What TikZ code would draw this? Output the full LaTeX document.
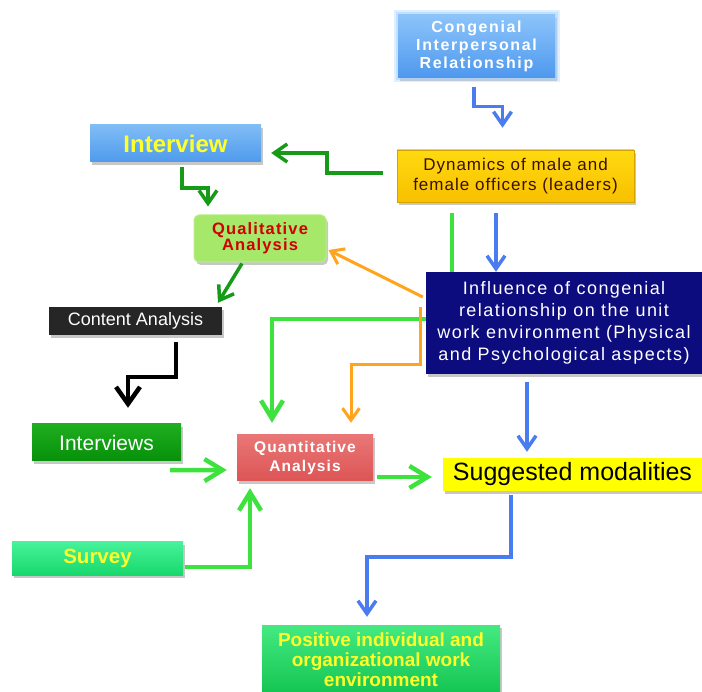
\documentclass[tikz,border=0pt]{standalone}
\usepackage{fontspec}
\setmainfont{Liberation Sans}
\setsansfont{Liberation Sans}
\newfontfamily\fontLSa{Liberation Sans}[LetterSpace=10]
\newfontfamily\fontLSb{Liberation Sans}[LetterSpace=7]
\newfontfamily\fontLSc{Liberation Sans}[LetterSpace=8]
\newfontfamily\fontLSd{Liberation Sans}[LetterSpace=6]
\usetikzlibrary{arrows.meta,shadows}
\definecolor{congT}{HTML}{8CC4FA}
\definecolor{congB}{HTML}{4E98EE}
\definecolor{congGlow}{HTML}{A8D4FF}
\definecolor{dynT}{HTML}{FFDA10}
\definecolor{dynB}{HTML}{F8C000}
\definecolor{dynText}{HTML}{3A1200}
\definecolor{intvT}{HTML}{80BDF6}
\definecolor{intvB}{HTML}{4E9AEC}
\definecolor{qualF}{HTML}{A6E86A}
\definecolor{qualText}{HTML}{D00000}
\definecolor{contF}{HTML}{262626}
\definecolor{inflF}{HTML}{0C0C7E}
\definecolor{ivsT}{HTML}{1FAE1F}
\definecolor{ivsB}{HTML}{07900A}
\definecolor{quantT}{HTML}{EA7676}
\definecolor{quantB}{HTML}{DC5555}
\definecolor{survT}{HTML}{46F29A}
\definecolor{survB}{HTML}{18D86C}
\definecolor{suggF}{HTML}{FFFF00}
\definecolor{posT}{HTML}{44EA80}
\definecolor{posB}{HTML}{14C452}
\definecolor{yellowText}{HTML}{FFFF2A}
\definecolor{arrBlue}{HTML}{4A7CF0}
\definecolor{arrDkGreen}{HTML}{179A17}
\definecolor{arrGreen}{HTML}{3EE23E}
\definecolor{arrOrange}{HTML}{FFA41C}
\tikzset{
  bx/.style={inner sep=0pt, align=center,
    drop shadow={shadow xshift=2pt, shadow yshift=-3pt, opacity=0.22, fill=black}},
  barrow/.style={draw=arrBlue, line width=3.5pt, -{Straight Barb[length=13pt,width=18pt]}},
  dgarrow/.style={draw=arrDkGreen, line width=3.5pt, -{Straight Barb[length=13pt,width=18pt]}},
  garrow/.style={draw=arrGreen, line width=4.5pt, -{Straight Barb[length=18pt,width=22pt]}},
  gline/.style={draw=arrGreen, line width=4.5pt},
  oarrow/.style={draw=arrOrange, line width=3pt, -{Straight Barb[length=12pt,width=17pt]}},
  karrow/.style={draw=black, line width=4.5pt, -{Straight Barb[length=17pt,width=24pt]}},
}
\begin{document}
\begin{tikzpicture}[x=1pt,y=-1pt]
\useasboundingbox[fill=white] (0,0) rectangle (702,692);

% nodes
\node[bx, minimum width=157pt, minimum height=63pt, top color=congT, bottom color=congB,
  preaction={draw=congGlow, line width=9pt, opacity=0.35},
  preaction={draw=congGlow, line width=5pt, opacity=0.5},
  text=white, font={\fontLSa\bfseries\fontsize{16}{18}\selectfont}]
  (cong) at (476.5,46.5) {Congenial\\Interpersonal\\Relationship};

\node[bx, minimum width=237pt, minimum height=52pt, top color=dynT, bottom color=dynB,
  draw=dynB!85!black, line width=0.5pt,
  text=dynText, font={\fontLSd\fontsize{17}{20}\selectfont}]
  (dyn) at (515.5,176) {Dynamics of male and\\female officers (leaders)};

\node[bx, minimum width=171pt, minimum height=37pt, top color=intvT, bottom color=intvB,
  text=yellowText, font={\bfseries\fontsize{24}{26}\selectfont}]
  (interview) at (175.5,143.5) {Interview};

\node[bx, minimum width=132pt, minimum height=47pt, fill=qualF, rounded corners=5pt,
  draw=qualF!80!white, line width=1pt,
  text=qualText, font={\fontLSb\bfseries\fontsize{16.5}{16}\selectfont}]
  (qual) at (260,238.5) {Qualitative\\Analysis};

\node[bx, minimum width=173pt, minimum height=28pt, fill=contF,
  text=white, font={\fontsize{18}{20}\selectfont}]
  (content) at (135.5,321) {Content Analysis};

\node[bx, minimum width=276pt, minimum height=102pt, fill=inflF,
  text=white, font={\fontLSc\fontsize{18}{22}\selectfont}]
  (infl) at (564,323) {Influence of congenial\\relationship on the unit\\work environment (Physical\\and Psychological aspects)};

\node[bx, minimum width=149pt, minimum height=37pt, top color=ivsT, bottom color=ivsB,
  text=white, font={\fontsize{21}{24}\selectfont}]
  (interviews) at (106.5,442.5) {Interviews};

\node[bx, minimum width=136pt, minimum height=46pt, top color=quantT, bottom color=quantB,
  text=white, font={\fontLSb\bfseries\fontsize{15.5}{19}\selectfont}]
  (quant) at (305,458) {Quantitative\\Analysis};

\node[bx, minimum width=171pt, minimum height=33pt, top color=survT, bottom color=survB,
  text=yellowText, font={\bfseries\fontsize{20.5}{24}\selectfont}]
  (survey) at (97.5,558.5) {Survey};

\node[bx, minimum width=259pt, minimum height=33pt, fill=suggF,
  text=black, font={\fontsize{25}{28}\selectfont}]
  (sugg) at (572.5,474.5) {Suggested modalities};

\node[bx, minimum width=238pt, minimum height=69pt, top color=posT, bottom color=posB,
  text=yellowText, font={\bfseries\fontsize{19}{20}\selectfont}]
  (pos) at (381,659.5) {Positive individual and\\organizational work\\environment};

% connectors
\draw[barrow] ([shift={(-2.5,9)}]cong.south) |- ([shift={(-13,-43)}]dyn.north)
  -- ([shift={(-13,-22)}]dyn.north);
\draw[dgarrow] ([shift={(-14,-3)}]dyn.west) -- ++(-56,0)
  |- ([shift={(10,9.5)}]interview.east);
\draw[dgarrow] ([shift={(6.5,5)}]interview.south) -- ++(0,21)
  -| ([shift={(-52,-8)}]qual.north);
\draw[dgarrow] ([shift={(-18,1)}]qual.south) -- ([shift={(82.5,-4)}]content.north);
\draw[karrow] ([shift={(40.5,7)}]content.south) -- ++(0,35)
  -| ([shift={(21.5,-16)}]interviews.north);
\draw[gline] ([shift={(-63.5,11)}]dyn.south) -- ([shift={(-112,0)}]infl.north);
\draw[barrow] ([shift={(-19.5,11)}]dyn.south) -- ([shift={(-68,0)}]infl.north);
\draw[oarrow] ([shift={(-3,-26)}]infl.west) -- ([shift={(2,11.5)}]qual.east);
\draw[garrow] ([shift={(0,-4)}]infl.west) -| ([shift={(-33,-12)}]quant.north);
\draw[oarrow] ([shift={(-5,-16)}]infl.west) -- ++(0,58)
  -| ([shift={(46,-12)}]quant.north);
\draw[garrow] ([shift={(-11,9)}]interviews.south east) -- ([shift={(-10,12)}]quant.west);
\draw[garrow] ([shift={(2,8.5)}]survey.east) -| ([shift={(-55,7)}]quant.south);
\draw[garrow] ([shift={(4,19)}]quant.east) -- ([shift={(-11,2.5)}]sugg.west);
\draw[barrow] ([shift={(-37,8)}]infl.south) -- ([shift={(-45.5,-6)}]sugg.north);
\draw[barrow] ([shift={(-61.5,4)}]sugg.south) -- ++(0,62)
  -| ([shift={(-14,-8)}]pos.north);
\end{tikzpicture}
\end{document}
